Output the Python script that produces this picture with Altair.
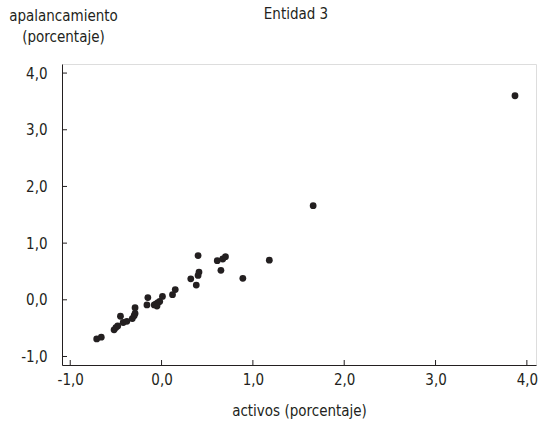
import altair as alt
import pandas as pd

# Asset growth vs. leverage growth, in percent
activos = [-0.71, -0.66, -0.52, -0.50, -0.48, -0.45, -0.42, -0.38, -0.32, -0.30,
           -0.29, -0.29, -0.16, -0.15, -0.08, -0.06, -0.04, -0.02, -0.05, 0.01,
           0.12, 0.15, 0.32, 0.38, 0.40, 0.41, 0.40, 0.61, 0.65, 0.67,
           0.70, 0.89, 1.18, 1.66, 3.87]
apalancamiento = [-0.69, -0.66, -0.53, -0.49, -0.46, -0.29, -0.40, -0.38, -0.33, -0.28,
                  -0.24, -0.14, -0.09, 0.04, -0.09, -0.07, -0.05, -0.03, -0.11, 0.06,
                  0.09, 0.18, 0.37, 0.26, 0.43, 0.49, 0.78, 0.69, 0.52, 0.72,
                  0.76, 0.38, 0.70, 1.66, 3.60]

tick_values = [-1.0, 0.0, 1.0, 2.0, 3.0, 4.0]

FONT = "Liberation Sans Narrow, DejaVu Sans Condensed, Liberation Sans, sans-serif"
FS = 15
INK = "#231f20"
W, H = 474, 301

df = pd.DataFrame({"activos": activos, "apalancamiento": apalancamiento})
ticks = pd.DataFrame({"v": tick_values})

label_expr = "replace(replace(format(datum.value, '.1f'), '.', ','), '\u2212', '-')"

x_scale = alt.Scale(domain=[-1.09, 4.1], nice=False, zero=False)
y_scale = alt.Scale(domain=[-1.15, 4.16], nice=False, zero=False)

points = alt.Chart(df).mark_circle(size=46, color=INK, opacity=1).encode(
    x=alt.X("activos:Q", scale=x_scale,
            axis=alt.Axis(values=tick_values, labelExpr=label_expr, ticks=False,
                          grid=False, domainColor=INK, labelPadding=7,
                          labelFontSize=FS, labelColor=INK, labelFont=FONT,
                          title="activos (porcentaje)", titleFont=FONT,
                          titleFontSize=FS, titleFontWeight="normal", titleColor=INK,
                          titleBaseline="alphabetic", titleY=50)),
    y=alt.Y("apalancamiento:Q", scale=y_scale,
            axis=alt.Axis(values=tick_values, labelExpr=label_expr, ticks=False,
                          grid=False, domainColor=INK, labelPadding=15,
                          labelFontSize=FS, labelColor=INK, labelFont=FONT,
                          title=["apalancamiento", "(porcentaje)"], titleFont=FONT,
                          titleFontSize=FS, titleFontWeight="normal", titleColor=INK,
                          titleAngle=0, titleAlign="center", titleBaseline="alphabetic",
                          titleX=1, titleY=-44, titleLineHeight=21)),
)

# Inward tick marks on both axes
x_ticks = alt.Chart(ticks).mark_rule(color=INK, strokeWidth=1).encode(
    x=alt.X("v:Q", scale=x_scale), y=alt.value(H), y2=alt.value(H - 5))
y_ticks = alt.Chart(ticks).mark_rule(color=INK, strokeWidth=1).encode(
    y=alt.Y("v:Q", scale=y_scale), x=alt.value(0), x2=alt.value(5))

title = alt.Chart(pd.DataFrame({"t": ["Entidad 3"]})).mark_text(
    font=FONT, fontSize=FS, color=INK, baseline="alphabetic", align="center"
).encode(text="t:N", x=alt.value(W / 2 - 3), y=alt.value(-45))

chart = alt.layer(points, x_ticks, y_ticks, title).properties(
    width=W, height=H,
    autosize=alt.AutoSizeParams(type="none"),
    padding={"left": 62, "top": 64, "right": 4, "bottom": 60},
).configure_view(stroke=None).configure(background="white")

chart.save("out.html", embed_options={"renderer": "svg", "actions": False})
